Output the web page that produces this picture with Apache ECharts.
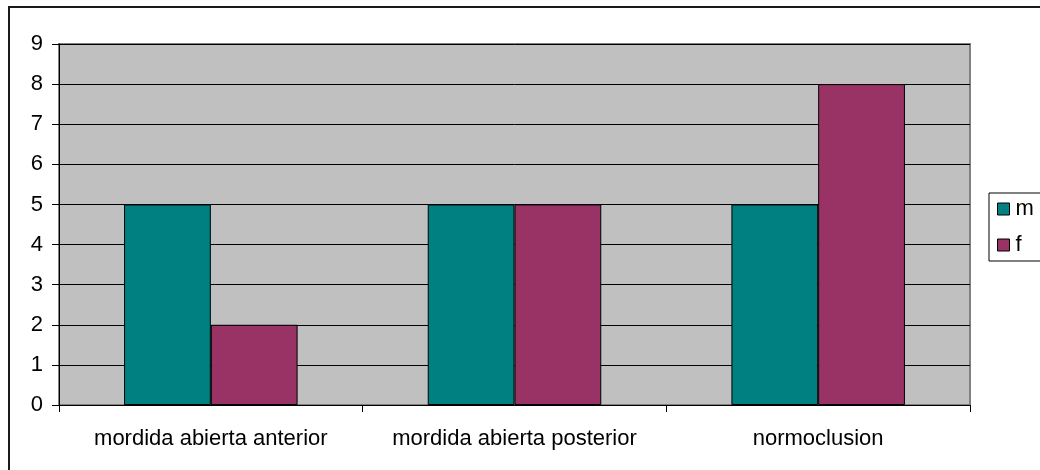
<!DOCTYPE html>
<html>
<head>
<meta charset="utf-8">
<script src="https://cdn.jsdelivr.net/npm/echarts@6/dist/echarts.min.js"></script>
<style>
  html, body { margin: 0; padding: 0; background: #fff; }
  #chart { width: 1040px; height: 470px; }
</style>
</head>
<body>
<div id="chart"></div>
<script>
// Counts per bite type, split by sex
const categories = ['mordida abierta anterior', 'mordida abierta posterior', 'normoclusion'];
const seriesNames = ['m', 'f'];
const valuesM = [5, 5, 5];
const valuesF = [2, 5, 8];
const yMax = 9;
const yStep = 1;

const FONT = '"Liberation Sans", Arial, sans-serif';
const FS = 22;
const chart = echarts.init(document.getElementById('chart'), null, { renderer: 'canvas' });

const barStyle = (color) => ({ color: color, borderColor: '#000', borderWidth: 1 });

chart.setOption({
  animation: false,
  backgroundColor: '#fff',
  textStyle: { fontFamily: FONT },
  graphic: [{
    // outer chart frame (runs off the right and bottom edges)
    type: 'rect',
    z: 0,
    shape: { x: 9, y: 7, width: 1100, height: 520 },
    style: { fill: 'none', stroke: '#1a1a1a', lineWidth: 2 }
  }],
  grid: {
    left: 59, top: 44, right: 70, bottom: 65,
    show: true,
    backgroundColor: '#C0C0C0',
    borderColor: '#808080',
    borderWidth: 2
  },
  legend: {
    orient: 'vertical',
    left: 989, top: 193,
    padding: [5, 60, 5, 8],
    itemGap: 14,
    itemWidth: 12, itemHeight: 12,
    itemStyle: { borderColor: '#000', borderWidth: 1 },
    borderColor: '#000', borderWidth: 1,
    backgroundColor: '#fff',
    icon: 'rect',
    textStyle: { fontFamily: FONT, fontSize: FS, color: '#000', lineHeight: 22, padding: [0, 0, 0, 1] },
    data: seriesNames
  },
  xAxis: {
    type: 'category',
    data: categories,
    boundaryGap: true,
    axisLine: { lineStyle: { color: '#000', width: 1 } },
    axisTick: { show: true, length: 7, lineStyle: { color: '#000' } },
    axisLabel: { color: '#000', fontFamily: FONT, fontSize: FS, margin: 23, interval: 0 },
    splitLine: { show: false }
  },
  yAxis: {
    type: 'value',
    min: 0, max: yMax, interval: yStep,
    axisLine: { show: true, lineStyle: { color: '#000', width: 1 } },
    axisTick: { show: true, length: 7, lineStyle: { color: '#000' } },
    axisLabel: { color: '#000', fontFamily: FONT, fontSize: FS, margin: 16 },
    splitLine: { show: true, lineStyle: { color: '#000', width: 1 } }
  },
  series: [
    {
      name: seriesNames[0], type: 'bar', data: valuesM,
      barGap: '0%', barCategoryGap: '42.86%',
      itemStyle: barStyle('#008080')
    },
    {
      name: seriesNames[1], type: 'bar', data: valuesF,
      barGap: '0%', barCategoryGap: '42.86%',
      itemStyle: barStyle('#993366')
    }
  ]
});
</script>
</body>
</html>
